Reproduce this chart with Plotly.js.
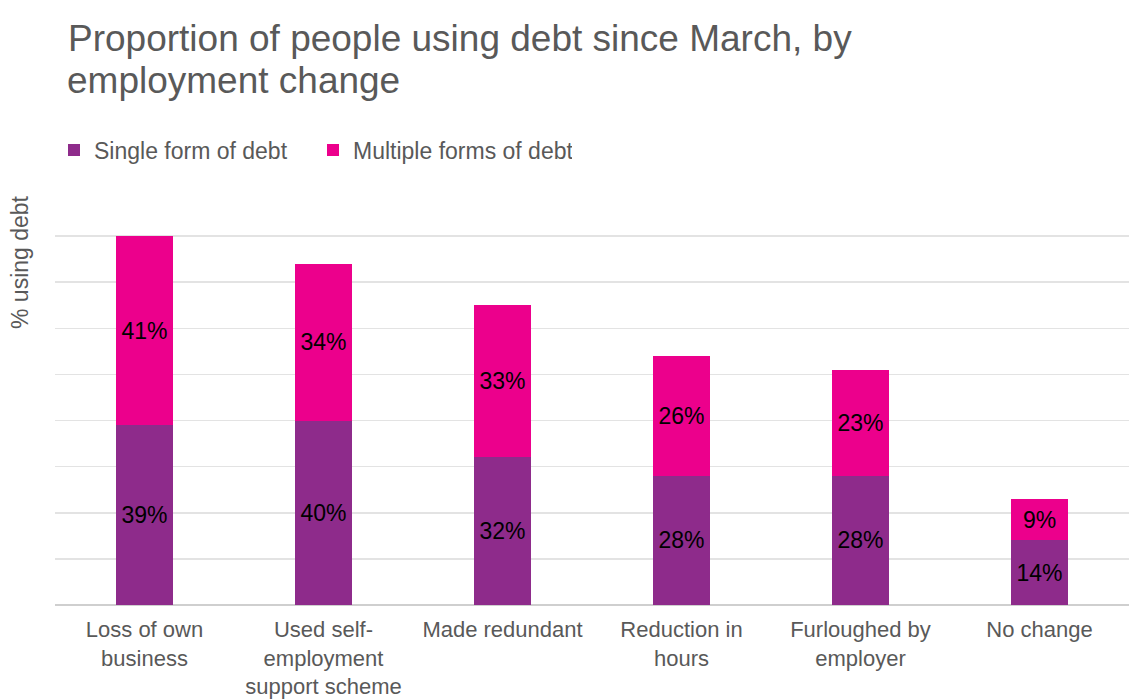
<!DOCTYPE html>
<html>
<head>
<meta charset="utf-8">
<script src="https://cdn.plot.ly/plotly-3.0.1.min.js"></script>
<style>html,body{margin:0;padding:0;background:#fff;}#chart{width:1129px;height:700px;}</style>
</head>
<body>
<div id="chart"></div>
<script>
const categories = ["Loss of own<br>business", "Used self-<br>employment<br>support scheme", "Made redundant", "Reduction in<br>hours", "Furloughed by<br>employer", "No change"];
const singleDebt = [39, 40, 32, 28, 28, 14];
const multipleDebt = [41, 34, 33, 26, 23, 9];
const seriesNames = ["Single form of debt", "Multiple forms of debt"];
const titleLine1 = "Proportion of people using debt since March, by";
const titleLine2 = "employment change";
const yTitle = "% using debt";

const FONT = '"Liberation Sans", Arial, Helvetica, sans-serif';
const GREY = '#595959';

const common = {
  type: 'bar',
  x: categories,
  texttemplate: '%{y}%',
  textposition: 'inside',
  insidetextanchor: 'middle',
  constraintext: 'none',
  textfont: {family: FONT, size: 23, color: '#000000'},
  hoverinfo: 'skip'
};

const traces = [
  Object.assign({}, common, {name: seriesNames[0], y: singleDebt, marker: {color: '#8E2B8B'}}),
  Object.assign({}, common, {name: seriesNames[1], y: multipleDebt, marker: {color: '#EC008C'}})
];

const layout = {
  width: 1129, height: 700,
  paper_bgcolor: '#ffffff', plot_bgcolor: '#ffffff',
  font: {family: FONT, color: GREY},
  margin: {l: 55, r: 0, t: 190, b: 95, pad: 0},
  barmode: 'stack',
  bargap: 0.68,
  title: {
    text: titleLine1,
    font: {family: FONT, size: 37, color: GREY},
    x: 68 / 1129, xref: 'container', xanchor: 'left',
    y: 1 - 25 / 700, yref: 'container', yanchor: 'top'
  },
  showlegend: true,
  legend: {
    orientation: 'h',
    xref: 'container', yref: 'container',
    x: 54 / 1129, xanchor: 'left',
    y: 1 - 150 / 700, yanchor: 'middle',
    font: {family: FONT, size: 23, color: GREY},
    traceorder: 'normal',
    itemwidth: 30,
    entrywidth: 214, entrywidthmode: 'pixels'
  },
  xaxis: {
    showgrid: false, zeroline: false, showline: false,
    ticks: '', tickfont: {family: FONT, size: 22, color: GREY},
    ticklabelstandoff: 9,
    fixedrange: true
  },
  yaxis: {
    range: [0, 90], dtick: 10, tick0: 0,
    showticklabels: false, ticks: '',
    showgrid: true, gridcolor: '#E3E3E3', gridwidth: 1.5,
    zeroline: true, zerolinecolor: '#CFCFCF', zerolinewidth: 2,
    fixedrange: true
  },
  annotations: [
    {
      text: titleLine2, showarrow: false,
      xref: 'paper', yref: 'paper',
      x: (65 - 55) / 1074, xanchor: 'left',
      y: 1 + (190 - 58) / 415, yanchor: 'top',
      font: {family: FONT, size: 37, color: GREY}
    },
    {
      text: yTitle, showarrow: false, textangle: -90,
      xref: 'paper', yref: 'paper',
      x: (20 - 55) / 1074, xanchor: 'center',
      y: (605 - 262) / 415, yanchor: 'middle',
      font: {family: FONT, size: 23, color: GREY}
    }
  ]
};

Plotly.newPlot('chart', traces, layout, {displayModeBar: false, staticPlot: true});
</script>
</body>
</html>
